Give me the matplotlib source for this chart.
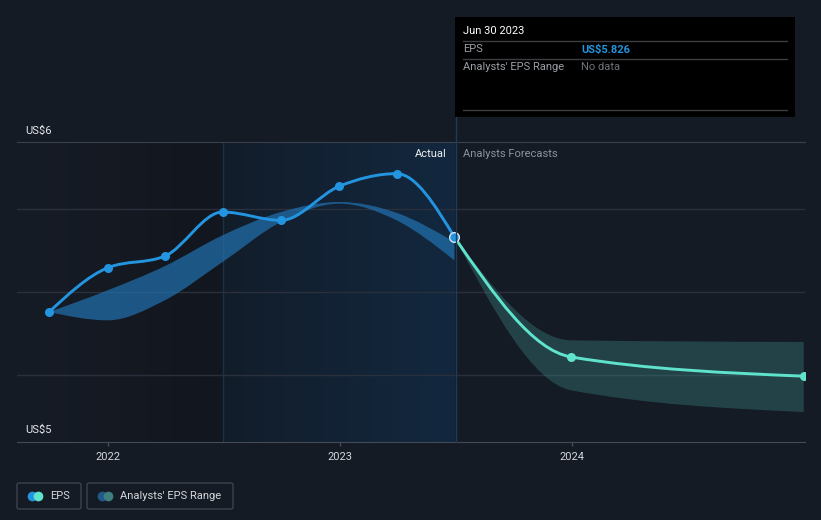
import numpy as np
import matplotlib
matplotlib.use('Agg')
import matplotlib.pyplot as plt
import matplotlib.dates as mdates
from matplotlib.path import Path
from matplotlib.patches import PathPatch, FancyBboxPatch, Rectangle
from matplotlib.lines import Line2D
from matplotlib.colors import LinearSegmentedColormap
from datetime import datetime

plt.rcParams['font.family'] = ['Roboto', 'DejaVu Sans']

# ---------------- data ----------------
actual_dates = ['2021-09-30', '2021-12-31', '2022-03-31', '2022-06-30',
                '2022-09-30', '2022-12-31', '2023-03-31', '2023-06-30']
actual_eps = [5.736, 5.789, 5.803, 5.856, 5.846, 5.887, 5.902, 5.826]
past_range_high = [5.736, 5.762, 5.791, 5.828, 5.856, 5.868, 5.855, 5.820]
past_range_low = [5.736, 5.726, 5.750, 5.796, 5.844, 5.866, 5.846, 5.798]

forecast_dates = ['2023-06-30', '2023-12-31', '2024-12-31']
forecast_eps = [5.826, 5.682, 5.659]
forecast_high = [5.826, 5.702, 5.700]
forecast_low = [5.826, 5.642, 5.616]

year_ticks = ['2022', '2023', '2024']
y_top_label = 'US$6'
y_bottom_label = 'US$5'
tooltip_date = 'Jun 30 2023'
tooltip_eps = 'US$5.826'

# ---------------- style ----------------
W, H = 821, 520
BG = '#151b25'
EPS_BLUE = '#2394df'
FC_TEAL = '#5fe3cc'
BAND_BLUE = '#2275b5'
BAND_TEAL = '#3a8a88'


def d(s):
    return mdates.date2num(datetime.strptime(s, '%Y-%m-%d'))


def monotone_path(x, y):
    x = np.asarray(x, float)
    y = np.asarray(y, float)
    n = len(x)
    h = np.diff(x)
    s = np.diff(y) / h
    t = np.zeros(n)
    sg = lambda v: -1.0 if v < 0 else 1.0
    for i in range(1, n - 1):
        p = (s[i - 1] * h[i] + s[i] * h[i - 1]) / (h[i - 1] + h[i])
        t[i] = (sg(s[i - 1]) + sg(s[i])) * min(abs(s[i - 1]), abs(s[i]), 0.5 * abs(p))
    if n > 2:
        t[0] = (3 * s[0] - t[1]) / 2
        t[-1] = (3 * s[-1] - t[-2]) / 2
    else:
        t[0] = t[-1] = s[0]
    verts = [(x[0], y[0])]
    codes = [Path.MOVETO]
    for i in range(n - 1):
        dx = h[i] / 3
        verts += [(x[i] + dx, y[i] + dx * t[i]),
                  (x[i + 1] - dx, y[i + 1] - dx * t[i + 1]),
                  (x[i + 1], y[i + 1])]
        codes += [Path.CURVE4] * 3
    return verts, codes


def band_path(x, lo, hi):
    uv, uc = monotone_path(x, hi)
    lv, lc = monotone_path(x, lo)
    verts = uv + lv[::-1] + [uv[0]]
    codes = uc + [Path.LINETO] + [Path.CURVE4] * (len(lv) - 1) + [Path.CLOSEPOLY]
    return Path(verts, codes)


fig = plt.figure(figsize=(W / 100, H / 100), dpi=100)
fig.patch.set_facecolor(BG)


def fx(px):
    return px / W


def fy(py):
    return 1 - py / H


ax = fig.add_axes([fx(17), fy(442), (805 - 17) / W, 300 / H])
ax.set_facecolor(BG)

xa = [d(s) for s in actual_dates]
xf = [d(s) for s in forecast_dates]
x_left = d('2022-01-01') - 91 / 231.5 * 365.25
x_right = xf[-1] + 2

# background regions
grad_left = LinearSegmentedColormap.from_list('gl', ['#161c26', '#12161e'])
ax.imshow(np.linspace(0, 1, 256).reshape(1, -1), cmap=grad_left, aspect='auto',
          extent=[x_left, xa[3], 5.58, 5.94], zorder=0.4, interpolation='bilinear')
grad = LinearSegmentedColormap.from_list('g', ['#131d2a', '#12283f'])
ax.imshow(np.linspace(0, 1, 256).reshape(1, -1), cmap=grad, aspect='auto',
          extent=[xa[3], xa[-1], 5.58, 5.94], zorder=0.5, interpolation='bilinear')
ax.axvline(xa[3], color='#1c3148', lw=1, zorder=0.6)
ax.set_xlim(x_left, x_right)
ax.set_ylim(5.58, 5.94)

# grid
ax.set_yticks([5.66, 5.76, 5.86])
ax.yaxis.grid(True, color='#2a303b', lw=1, zorder=1)
ax.tick_params(axis='y', left=False, labelleft=False)
for s in ['left', 'right']:
    ax.spines[s].set_visible(False)
ax.spines['top'].set_color('#3a404b')
ax.spines['bottom'].set_color('#454b56')
ax.set_xticks([d(y + '-01-01') for y in year_ticks])
ax.set_xticklabels(year_ticks)
ax.tick_params(axis='x', colors='#454b56', length=3, width=1, pad=4,
               labelcolor='#d4d6da', labelsize=8)

# bands
ax.add_patch(PathPatch(band_path(xa, past_range_low, past_range_high),
                       facecolor=BAND_BLUE, alpha=0.68, lw=0, zorder=2))
ax.add_patch(PathPatch(band_path(xf, forecast_low, forecast_high),
                       facecolor=BAND_TEAL, alpha=0.36, lw=0, zorder=2))

# lines
v, c = monotone_path(xa, actual_eps)
ax.add_patch(PathPatch(Path(v, c), facecolor='none', edgecolor=EPS_BLUE, lw=2.1,
                       zorder=4, capstyle='round', joinstyle='round'))
v, c = monotone_path(xf, forecast_eps)
ax.add_patch(PathPatch(Path(v, c), facecolor='none', edgecolor=FC_TEAL, lw=2.1,
                       zorder=3, capstyle='round', joinstyle='round'))
ax.plot(xa[:-1], actual_eps[:-1], 'o', color=EPS_BLUE, ms=6.5, mew=0, zorder=5)
ax.plot(xf[1:], forecast_eps[1:], 'o', color=FC_TEAL, ms=6.5, mew=0, zorder=5)
ax.plot(xa[-1:], actual_eps[-1:], 'o', color=EPS_BLUE, ms=7, mec='#dbe8f5',
        mew=1.0, zorder=6)

# y labels
fig.text(fx(25), fy(131), y_top_label, color='#e6e8eb', fontsize=8, va='center', ha='left')
fig.text(fx(25), fy(430), y_bottom_label, color='#e6e8eb', fontsize=8, va='center', ha='left')

# divider line
fig.add_artist(Line2D([fx(455.5), fx(455.5)], [fy(117), fy(442)], color='#1e3a58', lw=1))
fig.text(fx(447), fy(154), 'Actual', color='#eef0f2', fontsize=8, va='center', ha='right')
fig.text(fx(463), fy(154), 'Analysts Forecasts', color='#8d929a', fontsize=8,
         va='center', ha='left')

# tooltip
fig.add_artist(Rectangle((fx(455), fy(117)), (795 - 455) / W, 100 / H,
                         facecolor='#000000', edgecolor='none'))
for yy in [41.5, 58.5, 109.5]:
    fig.add_artist(Line2D([fx(463), fx(787)], [fy(yy), fy(yy)], color='#3b3d42', lw=1))
fig.text(fx(463), fy(31), tooltip_date, color='#ffffff', fontsize=8, va='center')
fig.text(fx(463), fy(49.5), 'EPS', color='#9a9ea5', fontsize=8, va='center')
fig.text(fx(581), fy(49.5), tooltip_eps, color=EPS_BLUE, fontsize=8, va='center',
         fontweight='bold')
fig.text(fx(463), fy(66.5), "Analysts' EPS Range", color='#9a9ea5', fontsize=8, va='center')
fig.text(fx(581), fy(66.5), 'No data', color='#6f737a', fontsize=8, va='center')

# legend
for (x0, x1) in [(17, 81), (87, 233)]:
    fig.add_artist(FancyBboxPatch((fx(x0), fy(509)), (x1 - x0) / W, 26 / H,
                                  boxstyle='round,pad=0,rounding_size=0.003',
                                  facecolor='none', edgecolor='#3d434e', lw=1))
leg_items = [(32, 38, EPS_BLUE, FC_TEAL, 'EPS', 50),
             (102, 108, '#1f5a8a', '#3f7f7d', "Analysts' EPS Range", 120)]
for c1x, c2x, col1, col2, label, tx in leg_items:
    fig.add_artist(Line2D([fx(c1x)], [fy(496)], marker='o', ms=7, color=col1, mew=0))
    fig.add_artist(Line2D([fx(c2x)], [fy(496)], marker='o', ms=7, color=col2, mew=0))
    fig.text(fx(tx), fy(496), label, color='#d4d6da', fontsize=8, va='center')

fig.savefig('out.png', dpi=100, facecolor=BG)
